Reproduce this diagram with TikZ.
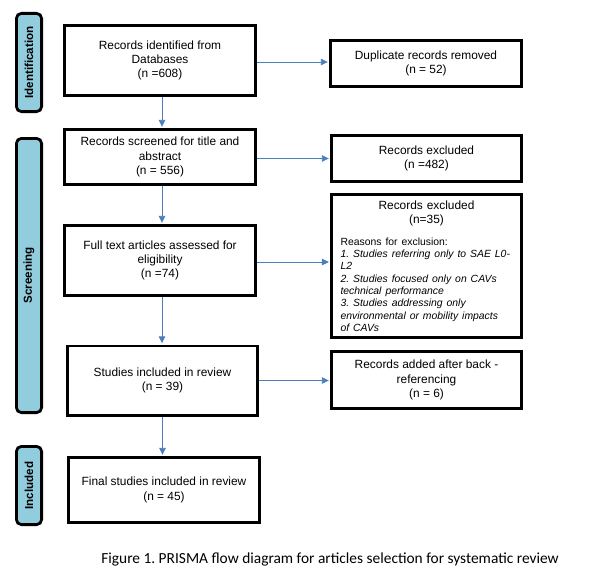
\documentclass[tikz,border=0pt]{standalone}
\usepackage{fontspec}
\setmainfont{Liberation Sans}
\newfontfamily\capfont{Carlito}
\usetikzlibrary{arrows.meta}
\definecolor{barblue}{RGB}{146,205,222}
\definecolor{arrowblue}{RGB}{74,126,187}
\frenchspacing
\begin{document}
\begin{tikzpicture}[x=1pt,y=-1pt,
  box/.style={draw=black, line width=2.8pt, fill=white, inner sep=2pt, align=center,
    font=\fontsize{11.9}{14.2}\selectfont},
  boxr/.style={draw=black, line width=2.8pt, fill=white, inner xsep=9pt, inner ysep=2pt,
    font=\fontsize{11.9}{14.2}\selectfont},
  bar/.style={draw=black, line width=2.8pt, fill=barblue, rounded corners=5pt,
    minimum height=25.2pt, inner sep=0pt, rotate=90,
    font=\bfseries\fontsize{11.6}{14}\selectfont},
  arr/.style={draw=arrowblue, line width=0.9pt, shorten >=1.2pt,
    -{Triangle[length=7pt,width=6.5pt]}}]
\useasboundingbox (0,0) rectangle (593,578);

% phase bars
\node[bar, minimum width=98.2pt] (idbar) at (29,62.5) {Identification};
\node[bar, minimum width=274.2pt] (scbar) at (29,275.5) {Screening};
\node[bar, minimum width=78.2pt] (inbar) at (29,485.5) {Included};

% left column
\node[box, minimum width=191.2pt, minimum height=70.2pt] (b1) at (160,60.5)
  {Records identified from\\Databases\\(n =608)};
\node[box, minimum width=191.2pt, minimum height=55.2pt] (b2) at (160,157)
  {Records screened for title and\\abstract\\(n = 556)};
\node[box, minimum width=191.2pt, minimum height=70.2pt] (b3) at (160,260.5)
  {Full text articles assessed for\\eligibility\\(n =74)};
\node[box, minimum width=190.2pt, minimum height=69.2pt] (b4) at (162.5,380.5)
  {Studies included in review\\(n = 39)};
\node[box, minimum width=191.2pt, minimum height=65.2pt] (b5) at (164,490)
  {Final studies included in review\\(n = 45)};

% right column
\node[box, minimum width=191.2pt, minimum height=46.2pt] (dup) at (426,63.5)
  {Duplicate records removed\\(n = 52)};
\node[box, minimum width=190.2pt, minimum height=46.2pt] (ex1) at (426.5,158.5)
  {Records excluded\\(n =482)};
\node[boxr, text width=172pt, minimum height=143.2pt] (ex2) at (426.5,266)
  {\centering Records excluded\\(n=35)\par
   \fontsize{10.4}{12.3}\selectfont\vspace{9.6pt}\raggedright
   Reasons for exclusion:\\
   \mbox{\itshape 1. Studies referring only to SAE L0-}\\
   \textit{L2}\\
   \textit{2. Studies focused only on CAVs}\\
   \textit{technical performance}\\
   \textit{3. Studies addressing only}\\
   \mbox{\itshape environmental or mobility impacts}\\
   \textit{of CAVs}\par};
\node[box, minimum width=190.2pt, minimum height=57.2pt] (add) at (426.5,380)
  {Records added after back -\\referencing\\(n = 6)};

% connectors
\draw[arr] ([xshift=2pt]b1.south) -- ([xshift=2pt]b1.south |- b2.north);
\draw[arr] ([xshift=2pt]b2.south) -- ([xshift=2pt]b2.south |- b3.north);
\draw[arr] ([xshift=2pt]b3.south) -- ([xshift=2pt]b3.south |- b4.north);
\draw[arr] (b4.south) -- (b4.south |- b5.north);
\draw[arr] ([yshift=-1.5pt]b1.east) -- ([yshift=-1.5pt]b1.east -| dup.west);
\draw[arr] ([yshift=-1.5pt]b2.east) -- ([yshift=-1.5pt]b2.east -| ex1.west);
\draw[arr] ([yshift=-1.5pt]b3.east) -- ([yshift=-1.5pt]b3.east -| ex2.west);
\draw[arr] (b4.east) -- (b4.east -| add.west);

% caption
\node[font=\capfont\fontsize{15.4}{18}\selectfont, inner sep=0pt] (cap) at (330,559)
  {Figure 1. PRISMA flow diagram for articles selection for systematic review};
\end{tikzpicture}
\end{document}
